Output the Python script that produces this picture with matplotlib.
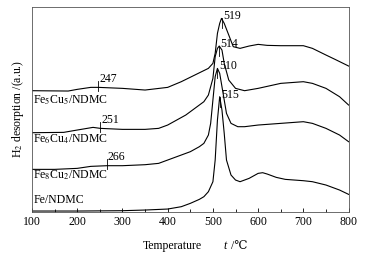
import matplotlib
matplotlib.use("Agg")
import matplotlib.pyplot as plt
import numpy as np

plt.rcParams['font.family'] = ['Liberation Serif', 'DejaVu Serif']
plt.rcParams['mathtext.fontset'] = 'stix'

# Temperature grids (°C) and signal (a.u., arbitrary offset units)
t_fe = [100, 200, 300, 350, 400, 430, 450, 470, 480, 490, 500, 505, 510, 515, 520, 525, 530, 540, 550, 560, 580, 600, 610, 620, 640, 660, 700, 720, 750, 780, 800]
y_fe = [633, 633, 632, 630, 627, 620, 610, 598, 590, 575, 545, 480, 360, 290, 330, 400, 480, 525, 540, 545, 535, 520, 518, 522, 532, 538, 542, 545, 555, 570, 583]

t_fe8 = [100, 150, 200, 230, 266, 300, 350, 380, 400, 420, 450, 470, 480, 490, 495, 500, 505, 510, 515, 520, 530, 540, 555, 570, 600, 650, 700, 720, 750, 780, 800]
y_fe8 = [508, 508, 505, 499, 497, 497, 494, 490, 480, 470, 455, 440, 430, 405, 370, 300, 230, 205, 220, 260, 340, 370, 380, 380, 375, 370, 365, 370, 385, 405, 425]

t_fe6 = [100, 170, 200, 235, 251, 300, 350, 380, 400, 420, 440, 460, 470, 480, 490, 500, 505, 510, 514, 520, 525, 535, 550, 570, 600, 650, 700, 720, 750, 780, 800]
y_fe6 = [398, 397, 390, 382, 385, 388, 388, 385, 375, 360, 345, 325, 315, 305, 285, 235, 170, 145, 138, 150, 190, 240, 265, 272, 265, 250, 245, 250, 265, 290, 315]

t_fe5 = [100, 180, 200, 230, 247, 300, 350, 400, 430, 460, 490, 500, 505, 510, 515, 519, 525, 535, 545, 560, 580, 600, 620, 650, 700, 720, 750, 770, 800]
y_fe5 = [272, 273, 268, 262, 262, 265, 270, 262, 245, 225, 205, 190, 160, 100, 70, 55, 70, 105, 140, 145, 138, 133, 136, 137, 137, 145, 165, 178, 198]

names = ["Fe$_5$Cu$_5$/NDMC", "Fe$_6$Cu$_4$/NDMC", "Fe$_8$Cu$_2$/NDMC", "Fe/NDMC"]
low_marks = [247, 251, 266]
peak_marks = [519, 514, 510, 515]

fig = plt.figure(figsize=(3.65, 2.58), dpi=100)
ax = fig.add_axes([32/365, 1-211.7/258, 316.6/365, 205/258])

Y0 = 635
series = [(t_fe5, y_fe5), (t_fe6, y_fe6), (t_fe8, y_fe8), (t_fe, y_fe)]
for t, y in series:
    ax.plot(t, Y0 - np.array(y), color='black', lw=0.8)

# name labels
name_y = [300, 418, 527, 600]
for n, yy in zip(names, name_y):
    ax.text(103, Y0 - yy, n, fontsize=8.5, va='center', ha='left')

# low-temperature marks
for (t, y), m in zip(series[:3], low_marks):
    yv = Y0 - np.interp(m, t, y)
    ax.plot([m, m], [yv - 10, yv + 20], color='black', lw=0.6)
    ax.text(m + 2, yv + 8, str(m), fontsize=8.5, va='bottom', ha='left')

# peak marks
for (t, y), m in zip(series, peak_marks):
    yv = Y0 - np.interp(m, t, y)
    ax.plot([m, m], [yv - 30, yv], color='black', lw=0.6)
    ax.text(m + 3, yv - 12, str(m), fontsize=8.5, va='bottom', ha='left')

ax.set_xlim(100, 800)
ax.set_ylim(0, 615)
ax.set_xticks(np.arange(100, 801, 100))
ax.set_xticks(np.arange(150, 800, 100), minor=True)
ax.tick_params(axis='x', direction='in', length=3, width=0.6, labelsize=8.5, pad=3)
ax.tick_params(axis='x', which='minor', direction='in', length=2, width=0.6)
ax.set_yticks([])
for s in ax.spines.values():
    s.set_linewidth(0.6)
    s.set_color('#555555')

# x label: "Temperature" + italic t + " /℃"
fig.text(143/365, 1-249/258, "Temperature", fontsize=8.5, ha='left', va='baseline')
fig.text(223/365, 1-249/258, "t", fontsize=8.5, fontstyle='italic', ha='left', va='baseline')
fig.text(228/365, 1-249/258, " /\u2103", fontsize=8.5, ha='left', va='baseline',
         family=['Liberation Serif', 'DejaVu Serif'])
ax.set_ylabel("H$_2$ desorption /(a.u.)", fontsize=8.5, labelpad=4)

fig.savefig("out.png", dpi=100)
